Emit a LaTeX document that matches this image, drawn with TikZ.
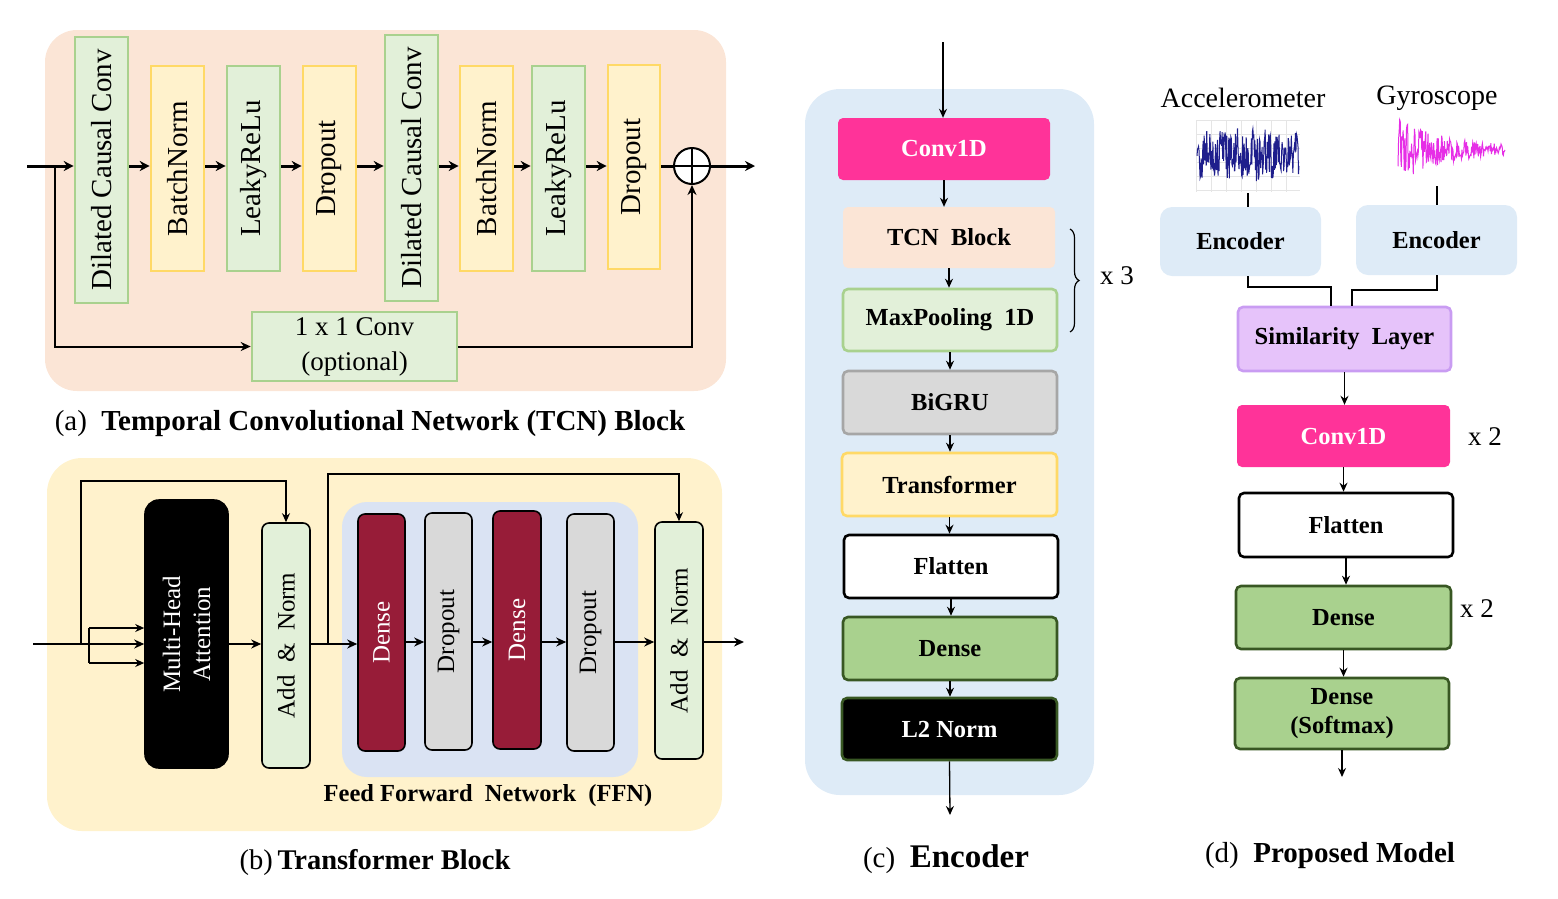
\documentclass[tikz,border=0pt]{standalone}
\usepackage{fontspec}
\setmainfont{Liberation Serif}
\usetikzlibrary{arrows.meta,calc,decorations.pathreplacing}
\definecolor{peach}{HTML}{FBE5D6}
\definecolor{lyel}{HTML}{FFF2CC}
\definecolor{gold}{HTML}{FFD966}
\definecolor{lgreen}{HTML}{E2F0D9}
\definecolor{mgreen}{HTML}{A9D18E}
\definecolor{dgreen}{HTML}{385723}
\definecolor{cblue}{HTML}{DEEBF7}
\definecolor{ffnblue}{HTML}{DAE3F3}
\definecolor{pink}{HTML}{FF3399}
\definecolor{lgray}{HTML}{D9D9D9}
\definecolor{mgray}{HTML}{A6A6A6}
\definecolor{dred}{HTML}{971C38}
\definecolor{lpurp}{HTML}{E6C3FA}
\definecolor{mpurp}{HTML}{C99CF2}
\definecolor{navy}{HTML}{1E1E8C}
\definecolor{mag}{HTML}{E62EE6}
\newcommand\myfA{\fontsize{29}{31}\selectfont}
\newcommand\myfB{\fontsize{25}{27}\selectfont}
\newcommand\myfC{\fontsize{24.5}{29}\selectfont\bfseries}
\newcommand\myfCap{\fontsize{29}{31}\selectfont}
\tikzset{
  abox/.style={draw, line width=2.6pt, inner sep=0pt},
  agreen/.style={abox, fill=lgreen, draw=mgreen},
  ayel/.style={abox, fill=lyel, draw=gold},
  vtext/.style={rotate=90, font=\myfA, inner sep=0pt},
  vtextb/.style={rotate=90, font=\myfB, inner sep=0pt, align=center},
  bbox/.style={draw=black, line width=1.6pt, rounded corners=7pt, inner sep=0pt},
  cbox/.style={rounded corners=5pt, inner sep=0pt, font=\myfC, align=center},
  thickarr/.style={line width=3pt, -{Stealth[length=10pt,width=10pt]}},
  medarr/.style={line width=2pt, -{Stealth[length=10pt,width=9pt]}},
  barr/.style={line width=2.2pt, -{Stealth[length=10pt,width=9pt]}},
  sarr/.style={line width=1.8pt, -{Stealth[length=9pt,width=8pt]}},
  tarr/.style={line width=1.3pt, -{Stealth[length=9pt,width=8pt]}},
  gridc/.style={black!10, line width=0.6pt},
}
\begin{document}
\begin{tikzpicture}[x=1pt,y=-1pt]
\useasboundingbox (0,0) rectangle (1558,898);

% ===================== (a) TCN block =====================
\fill[peach, rounded corners=32pt] (45,30) rectangle (726,391);
\node[agreen, minimum width=53, minimum height=266] (dcc1) at (101.5,170) {};
\node[ayel,   minimum width=53, minimum height=205] (bn1)  at (177.5,168.5) {};
\node[agreen, minimum width=53, minimum height=205] (lr1)  at (253.5,168.5) {};
\node[ayel,   minimum width=53, minimum height=205] (do1)  at (329.5,168.5) {};
\node[agreen, minimum width=53, minimum height=266] (dcc2) at (411.5,168) {};
\node[ayel,   minimum width=53, minimum height=205] (bn2)  at (486.5,168.5) {};
\node[agreen, minimum width=53, minimum height=205] (lr2)  at (558.5,168.5) {};
\node[ayel,   minimum width=52, minimum height=204] (do2)  at (634,167) {};
\node[vtext] (dcc1t) at (dcc1) {Dilated Causal Conv};
\node[vtext] (bn1t) at (bn1) {BatchNorm};
\node[vtext] (lr1t) at (lr1) {LeakyReLu};
\node[vtext] (do1t) at (do1) {Dropout};
\node[vtext] (dcc2t) at (dcc2) {Dilated Causal Conv};
\node[vtext] (bn2t) at (bn2) {BatchNorm};
\node[vtext] (lr2t) at (lr2) {LeakyReLu};
\node[vtext] (do2t) at (do2) {Dropout};
\node[circle, draw, fill=white, line width=2pt, minimum size=36pt, inner sep=0pt] (plus) at (692,166) {};
\draw[line width=1.6pt] (plus.north) -- (plus.south) (plus.west) -- (plus.east);
\node[agreen, minimum width=205, minimum height=69, align=center, font=\fontsize{27}{35}\selectfont] (c11) at (354.5,346.5) {1 x 1 Conv\\(optional)};
\coordinate (ina) at (27,166);
\coordinate (sa) at (55,166);
\coordinate (outa) at (755,166);
\draw[thickarr] (ina) -- (dcc1.west|-plus);
\draw[thickarr] (dcc1.east|-plus) -- (bn1.west|-plus);
\draw[thickarr] (bn1.east|-plus) -- (lr1.west|-plus);
\draw[thickarr] (lr1.east|-plus) -- (do1.west|-plus);
\draw[thickarr] (do1.east|-plus) -- (dcc2.west|-plus);
\draw[thickarr] (dcc2.east|-plus) -- (bn2.west|-plus);
\draw[thickarr] (bn2.east|-plus) -- (lr2.west|-plus);
\draw[thickarr] (lr2.east|-plus) -- (do2.west|-plus);
\draw[line width=3pt] (do2.east|-plus) -- (plus.west);
\draw[thickarr] (plus.east) -- (outa);
\draw[medarr] (sa) |- (c11.west);
\draw[medarr] (c11.east) -| (plus.south);
\node[font=\myfCap] (capa) at (370,424) {(a)\ \ \textbf{Temporal Convolutional Network (TCN) Block}};

% ===================== (b) Transformer block =====================
\fill[lyel, rounded corners=35pt] (47,458) rectangle (722,831);
\fill[ffnblue, rounded corners=25pt] (342,502) rectangle (638,777);
\node[bbox, fill=black, rounded corners=14pt, minimum width=83, minimum height=268] (mha) at (186.5,634) {};
\node[bbox, fill=lgreen, minimum width=48, minimum height=245] (an1) at (286,645.5) {};
\node[bbox, fill=dred, minimum width=47, minimum height=237] (de1) at (381.5,632.5) {};
\node[bbox, fill=lgray, minimum width=47, minimum height=237] (dr1) at (448.5,631.5) {};
\node[bbox, fill=dred, minimum width=48, minimum height=238] (de2) at (517,630) {};
\node[bbox, fill=lgray, minimum width=47, minimum height=237] (dr2) at (590.5,632.5) {};
\node[bbox, fill=lgreen, minimum width=48, minimum height=237] (an2) at (679,640.5) {};
\node[vtextb, text=white, font=\fontsize{25}{30}\selectfont] (mhat) at (mha) {Multi-Head\\Attention};
\node[vtextb] (an1t) at (an1) {Add\ \ \&\ \ Norm};
\node[vtextb, text=white] (de1t) at (de1) {Dense};
\node[vtextb] (dr1t) at (dr1) {Dropout};
\node[vtextb, text=white] (de2t) at (de2) {Dense};
\node[vtextb] (dr2t) at (dr2) {Dropout};
\node[vtextb] (an2t) at (an2) {Add\ \ \&\ \ Norm};
\node[font=\fontsize{24.5}{26}\selectfont\bfseries] (ffnl) at (488,796) {Feed Forward\ \ Network\ \ (FFN)};
\coordinate (inb) at (33,644);
\coordinate (s1) at (89,628);
\coordinate (s2) at (89,663);
\coordinate (k1) at (81,644);
\coordinate (k1t) at (81,481);
\coordinate (k2) at (328,644);
\coordinate (k2t) at (328,474);
\coordinate (mb) at (0,642);
\coordinate (outb) at (744,642);
\draw[barr] (inb) -- (mha.west|-inb);
\draw[line width=1.8pt] (s1) -- (s2);
\draw[sarr] (s1) -- (mha.west|-s1);
\draw[sarr] (s2) -- (mha.west|-s2);
\draw[sarr] (k1) -- (k1t) -| (an1.north);
\draw[barr] (mha.east|-inb) -- (an1.west|-inb);
\draw[barr] (an1.east|-inb) -- (de1.west|-inb);
\draw[sarr] (k2) -- (k2t) -| (an2.north);
\draw[barr] (de1.east|-mb) -- (dr1.west|-mb);
\draw[barr] (dr1.east|-mb) -- (de2.west|-mb);
\draw[barr] (de2.east|-mb) -- (dr2.west|-mb);
\draw[barr] (dr2.east|-mb) -- (an2.west|-mb);
\draw[barr] (an2.east|-mb) -- (outb);
\node[font=\fontsize{28.5}{30}\selectfont] (capb) at (375,862) {(b)\,\textbf{Transformer Block}};

% ===================== (c) Encoder =====================
\fill[cblue, rounded corners=35pt] (805,89) rectangle (1094,795);
\node[cbox, fill=pink, text=white, minimum width=212, minimum height=62] (conv1) at (944,149) {Conv1D};
\node[cbox, fill=peach, minimum width=212, minimum height=61] (tcn) at (949,237.5) {TCN\ \ Block};
\node[cbox, fill=lgreen, draw=mgreen, line width=2.6pt, minimum width=214, minimum height=62] (maxp) at (950,320) {MaxPooling\ \ 1D};
\node[cbox, fill=lgray, draw=mgray, line width=2.6pt, minimum width=214, minimum height=63] (bigru) at (950,402.5) {BiGRU};
\node[cbox, fill=lyel, draw=gold, line width=2.6pt, minimum width=215, minimum height=63] (trans) at (949.5,484.5) {Transformer};
\node[cbox, fill=white, draw=black, line width=2.6pt, minimum width=214, minimum height=63] (flat) at (951,566.5) {Flatten};
\node[cbox, fill=mgreen, draw=dgreen, line width=2.6pt, minimum width=214, minimum height=63] (dense) at (950,648.5) {Dense};
\node[cbox, fill=black, draw=dgreen, line width=2.6pt, text=white, minimum width=215, minimum height=62] (l2) at (949.5,729) {L2 Norm};
\coordinate (inc) at (943,42);
\coordinate (outc) at (950,815);
\draw[tarr] (inc) -- (inc|-conv1.north);
\draw[tarr] (conv1.south) -- (conv1.south|-tcn.north);
\draw[tarr] (tcn.south) -- (tcn.south|-maxp.north);
\draw[tarr] (maxp.south) -- (maxp.south|-bigru.north);
\draw[tarr] (bigru.south) -- (bigru.south|-trans.north);
\draw[tarr] (trans.south) -- (trans.south|-flat.north);
\draw[tarr] (flat.south) -- (flat.south|-dense.north);
\draw[tarr] (dense.south) -- (dense.south|-l2.north);
\draw[tarr] (l2.south) -- (outc);
\draw[line width=1.2pt, decorate, decoration={brace, amplitude=9pt}] (1070,229) -- (1070,332);
\node[font=\fontsize{27}{29}\selectfont] (x3) at (1117,276) {x 3};
\node (capc) at (946,859) {\fontsize{29}{30}\selectfont(c)\ \ \fontsize{33}{34}\selectfont\textbf{Encoder}};

% ===================== (d) Proposed model =====================
\node[font=\fontsize{28}{30}\selectfont] (accl) at (1243,98) {Accelerometer};
\node[font=\fontsize{28}{30}\selectfont] (gyrl) at (1437,98) {Gyroscope};
\foreach \gx in {1196,1211,...,1300} \draw[gridc] (\gx,120) -- (\gx,192);
\foreach \gy in {120,134,...,192} \draw[gridc] (1196,\gy) -- (1300,\gy);
\pgfmathsetseed{11}
\draw[navy, line width=1pt] plot[domain=0:102, samples=200, variable=\t] ({\t+1197},{155+5*sin(\t*25)+23*rand});
\draw[mag, line width=1pt] plot[domain=0:107, samples=190, variable=\t] ({\t+1398},{150+(3+30*exp(-\t/45))*rand});
\node[cbox, fill=cblue, rounded corners=12pt, minimum width=161, minimum height=69] (enc1) at (1240.5,241.5) {Encoder};
\node[cbox, fill=cblue, rounded corners=12pt, minimum width=161, minimum height=70] (enc2) at (1436.5,240) {Encoder};
\node[cbox, fill=lpurp, draw=mpurp, line width=2.6pt, minimum width=213, minimum height=64] (sim) at (1344.5,339) {Similarity\ \ Layer};
\node[cbox, fill=pink, text=white, minimum width=213, minimum height=62] (conv2) at (1343.5,436) {Conv1D};
\node[cbox, fill=white, draw=black, line width=2.6pt, minimum width=214, minimum height=64] (flat2) at (1346,525) {Flatten};
\node[cbox, fill=mgreen, draw=dgreen, line width=2.6pt, minimum width=215, minimum height=63] (dense2) at (1343.5,617.5) {Dense};
\node[cbox, fill=mgreen, draw=dgreen, line width=2.6pt, minimum width=214, minimum height=71] (soft) at (1342,713.5) {Dense\\(Softmax)};
\coordinate (accb) at (1248,193);
\coordinate (gyb) at (1437,186);
\coordinate (j1) at (1331,287);
\coordinate (j2) at (1352,290);
\coordinate (outd) at (1342,777);
\draw[line width=1.2pt] (accb) -- (accb|-enc1.north);
\draw[line width=1.2pt] (gyb) -- (gyb|-enc2.north);
\draw[line width=1.2pt] (accb|-enc1.south) |- (j1) -- (j1|-sim.north);
\draw[line width=1.2pt] (gyb|-enc2.south) |- (j2) -- (j2|-sim.north);
\draw[tarr] (sim.south) -- (sim.south|-conv2.north);
\draw[tarr] (conv2.south) -- (conv2.south|-flat2.north);
\draw[tarr] (flat2.south) -- (flat2.south|-dense2.north);
\draw[tarr] (dense2.south) -- (dense2.south|-soft.north);
\draw[tarr] (soft.south) -- (outd);
\node[font=\fontsize{27}{29}\selectfont] (x2a) at (1485,437) {x 2};
\node[font=\fontsize{27}{29}\selectfont] (x2b) at (1477,609) {x 2};
\node[font=\fontsize{29}{31}\selectfont] (capd) at (1330,856) {(d)\ \ \textbf{Proposed Model}};
\end{tikzpicture}
\end{document}
